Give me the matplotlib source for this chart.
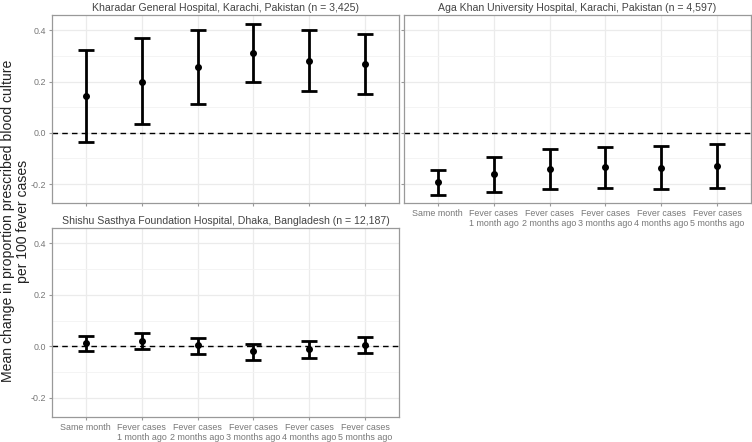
import numpy as np
import matplotlib.pyplot as plt

plt.rcParams['font.family'] = ['Liberation Sans', 'DejaVu Sans']

# 类别与数据
lags = ["Same month", "Fever cases\n1 month ago", "Fever cases\n2 months ago",
        "Fever cases\n3 months ago", "Fever cases\n4 months ago", "Fever cases\n5 months ago"]

kgh_est = [0.144, 0.200, 0.257, 0.312, 0.281, 0.268]
kgh_lo = [-0.035, 0.034, 0.112, 0.198, 0.164, 0.151]
kgh_hi = [0.325, 0.369, 0.403, 0.426, 0.400, 0.385]

akuh_est = [-0.193, -0.161, -0.140, -0.135, -0.136, -0.130]
akuh_lo = [-0.243, -0.230, -0.218, -0.217, -0.219, -0.216]
akuh_hi = [-0.145, -0.094, -0.064, -0.055, -0.052, -0.044]

ssfh_est = [0.013, 0.021, 0.004, -0.019, -0.009, 0.005]
ssfh_lo = [-0.017, -0.009, -0.029, -0.052, -0.043, -0.025]
ssfh_hi = [0.040, 0.051, 0.034, 0.009, 0.022, 0.035]

titles = ["Kharadar General Hospital, Karachi, Pakistan (n = 3,425)",
          "Aga Khan University Hospital, Karachi, Pakistan (n = 4,597)",
          "Shishu Sasthya Foundation Hospital, Dhaka, Bangladesh (n = 12,187)"]

W, H = 752, 442
fig = plt.figure(figsize=(W / 100, H / 100), dpi=100)


def px_axes(x0, y0, x1, y1):
    return fig.add_axes([x0 / W, 1 - y1 / H, (x1 - x0) / W, (y1 - y0) / H])


ax1 = px_axes(52, 15, 399, 203)
ax2 = px_axes(404, 15, 751, 203)
ax3 = px_axes(52, 228, 399, 417)

panels = [(ax1, kgh_est, kgh_lo, kgh_hi, True, False),
          (ax2, akuh_est, akuh_lo, akuh_hi, False, True),
          (ax3, ssfh_est, ssfh_lo, ssfh_hi, True, True)]

x = np.arange(1, len(lags) + 1)
for i, (ax, est, lo, hi, show_y, show_x) in enumerate(panels):
    est = np.array(est)
    yerr = [est - np.array(lo), np.array(hi) - est]
    ax.axhline(0, color="black", ls=(0, (4, 3)), lw=1, zorder=2)
    ax.errorbar(x, est, yerr=yerr, fmt="o", color="black", ms=4,
                elinewidth=2, capsize=6, capthick=2, zorder=3)
    ax.set_xlim(0.4, 6.6)
    ax.set_ylim(-0.274, 0.46)
    ax.set_xticks(x)
    ax.set_yticks([-0.2, 0.0, 0.2, 0.4])
    ax.set_yticks([-0.1, 0.1, 0.3], minor=True)
    ax.grid(True, which="major", color="#EBEBEB", lw=0.9, zorder=0)
    ax.grid(True, which="minor", axis="y", color="#F3F3F3", lw=0.6, zorder=0)
    ax.set_axisbelow(True)
    for s in ax.spines.values():
        s.set_color("#999999")
        s.set_linewidth(0.9)
    ax.tick_params(which="both", length=2.5, color="#999999",
                   labelsize=6.4, labelcolor="#777777", pad=2)
    ax.tick_params(which="minor", length=0)
    if show_x:
        ax.set_xticklabels(lags, linespacing=1.05)
    else:
        ax.set_xticklabels([])
    if show_y:
        ax.set_yticklabels(["-0.2", "0.0", "0.2", "0.4"])
    else:
        ax.set_yticklabels([])
    ax.set_title(titles[i], fontsize=7.6, color="#444444", pad=3)

fig.text(0.021, 0.5, "Mean change in proportion prescribed blood culture\nper 100 fever cases",
         rotation=90, ha="center", va="center", fontsize=10.1, color="#222222",
         linespacing=1.1)

fig.savefig("out.png", dpi=100)
